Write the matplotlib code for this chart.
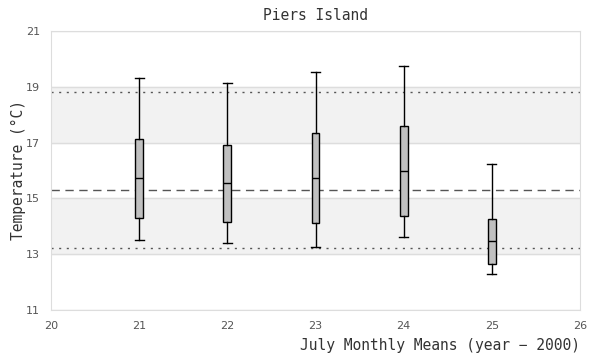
import matplotlib
matplotlib.use("Agg")
import matplotlib.pyplot as plt

# July monthly means, year - 2000
years = [21, 22, 23, 24, 25]
whisker_low = [13.51, 13.40, 13.27, 13.61, 12.28]
q1 = [14.30, 14.15, 14.11, 14.36, 12.64]
medians = [15.73, 15.55, 15.72, 15.97, 13.46]
q3 = [17.13, 16.91, 17.34, 17.58, 14.25]
whisker_high = [19.32, 19.14, 19.53, 19.75, 16.23]

mean_line = 15.29
lower_line = 13.21
upper_line = 18.80

x_ticks = [20, 21, 22, 23, 24, 25, 26]
y_ticks = [11, 13, 15, 17, 19, 21]

mono = "DejaVu Sans Mono"

fig = plt.figure(figsize=(6, 3.6), dpi=100)
ax = fig.add_axes([0.085, 0.139, 0.8817, 0.775])

# alternating background bands
for i in range(len(y_ticks) - 1):
    if i % 2 == 1:
        ax.axhspan(y_ticks[i], y_ticks[i + 1], color="#f2f2f2", zorder=0)
for y in y_ticks:
    ax.axhline(y, color="#dddddd", lw=1, zorder=1)

ax.axhline(mean_line, color="#555555", lw=1, ls=(0, (6, 4)), zorder=2)
ax.axhline(lower_line, color="#555555", lw=1, ls=(0, (1.5, 4)), zorder=2)
ax.axhline(upper_line, color="#555555", lw=1, ls=(0, (1.5, 4)), zorder=2)

stats = []
for i in range(len(years)):
    stats.append({"whislo": whisker_low[i], "q1": q1[i], "med": medians[i],
                  "q3": q3[i], "whishi": whisker_high[i], "fliers": []})

ax.bxp(stats, positions=years, widths=0.09, patch_artist=True,
       showfliers=False, manage_ticks=False,
       boxprops=dict(facecolor="#c0c0c0", edgecolor="black", lw=1),
       medianprops=dict(color="black", lw=1),
       whiskerprops=dict(color="black", lw=1),
       capprops=dict(color="black", lw=1), capwidths=0.1)

ax.set_xlim(20, 26)
ax.set_ylim(11, 21)
ax.set_xticks(x_ticks)
ax.set_yticks(y_ticks)
ax.tick_params(length=0, labelsize=8, labelcolor="#555555", pad=8)
for s in ax.spines.values():
    s.set_color("#dddddd")

ax.set_title("Piers Island", fontfamily=mono, fontsize=10.5, color="#333333", pad=8)
ax.set_ylabel("Temperature (°C)", fontfamily=mono, fontsize=10.5, color="#333333",
              labelpad=0)
ax.set_xlabel("July Monthly Means (year \u2212 2000)", fontfamily=mono,
              fontsize=10.5, color="#333333", loc="right", labelpad=5)

fig.savefig("out.png", dpi=100)
